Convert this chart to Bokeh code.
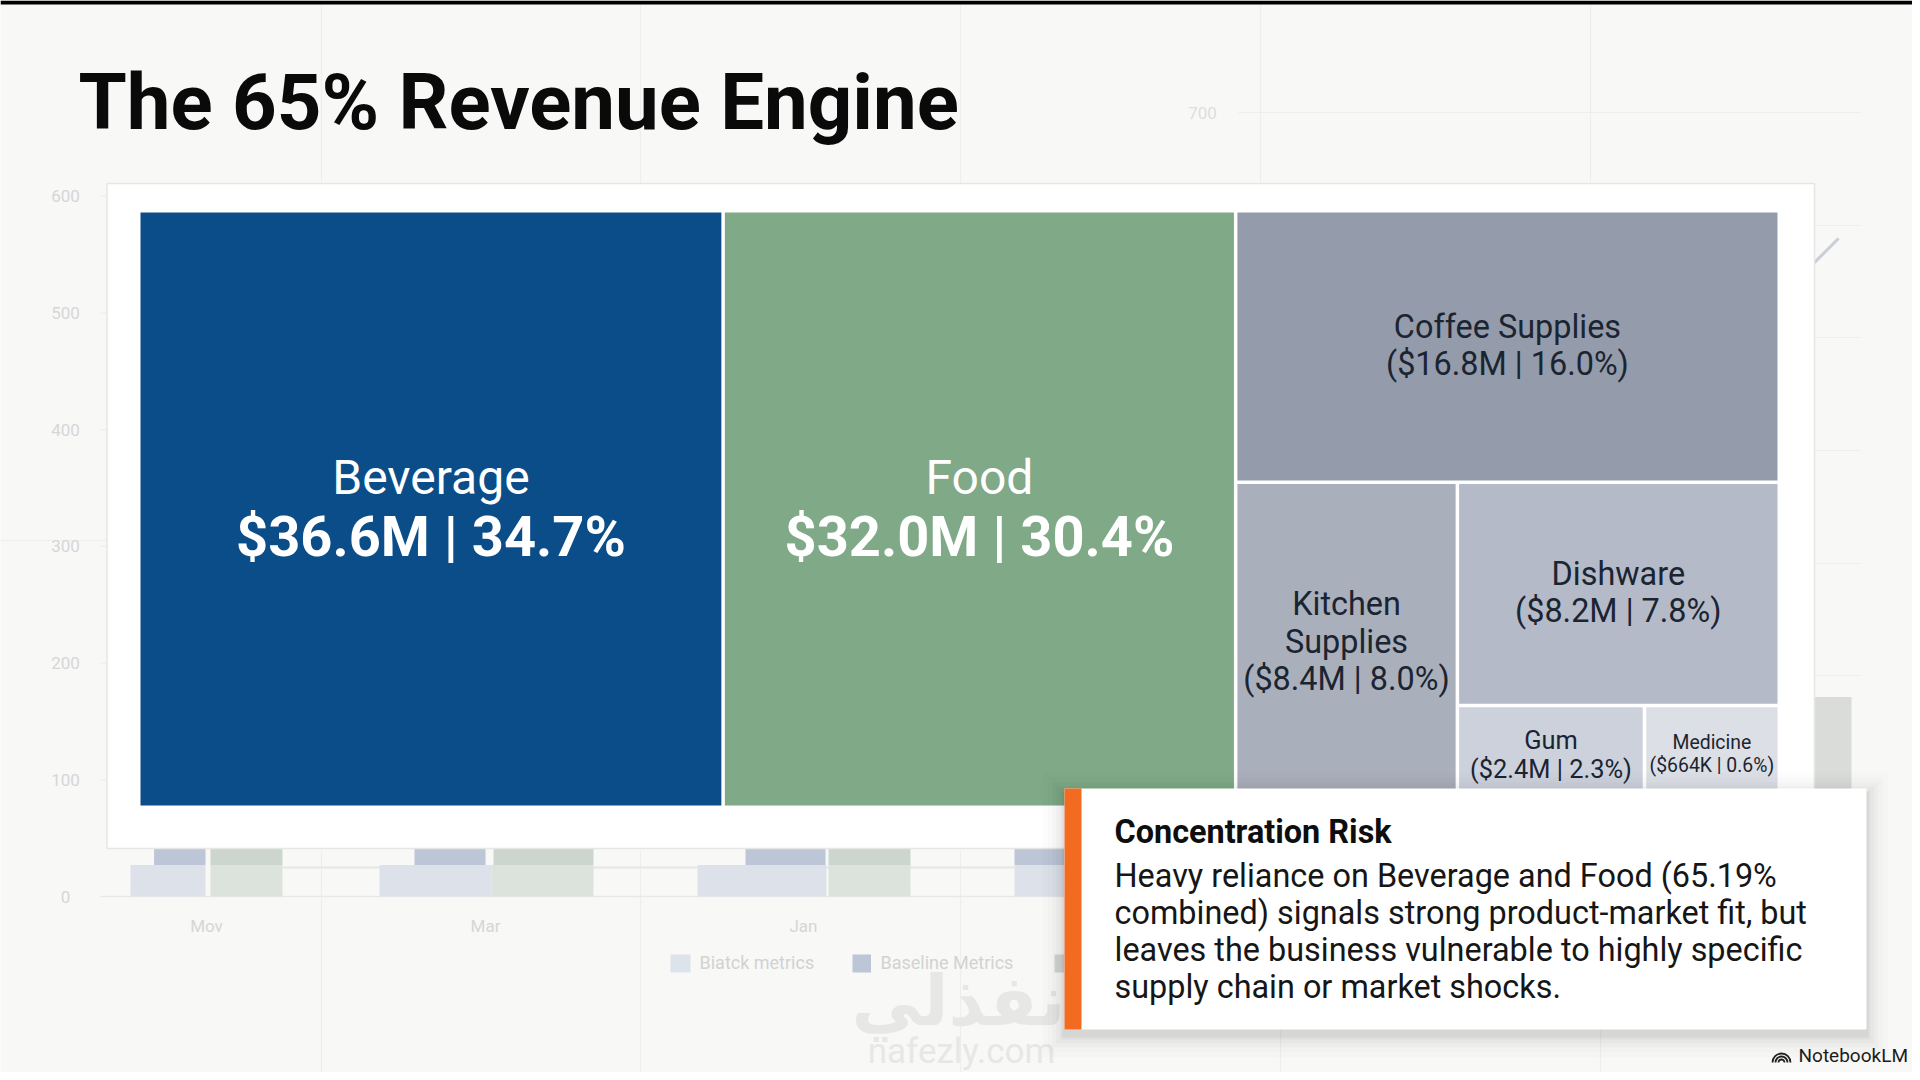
from bokeh.plotting import figure
from bokeh.models import Range1d
from bokeh.core.properties import value
from bokeh.embed import file_html
from bokeh.resources import INLINE

# ---------- data ----------
title = "The 65% Revenue Engine"
categories = ["Beverage", "Food", "Coffee Supplies", "Kitchen Supplies", "Dishware", "Gum", "Medicine"]
revenue_labels = ["$36.6M | 34.7%", "$32.0M | 30.4%", "($16.8M | 16.0%)", "($8.4M | 8.0%)",
                  "($8.2M | 7.8%)", "($2.4M | 2.3%)", "($664K | 0.6%)"]
tile_area = [35.6, 31.2, 15.05, 7.34, 7.40, 1.93, 1.38]   # area share of each tile as drawn
tile_color = ["#0a4d88", "#7fa987", "#949baa", "#a9afbb", "#b4bac7", "#ccd1dc", "#dcdfe5"]

ghost_ticks = [0, 100, 200, 300, 400, 500, 600]
ghost_months = ["Mov", "Mar", "Jan"]
ghost_lower_blue = [27, 27, 27, 27]
ghost_lower_green = [27, 27, 27]
ghost_upper = [160, 190, 230, 260]
ghost_right_bar = 171
legend_labels = ["Biatck metrics", "Baseline Metrics"]

risk_title = "Concentration Risk"
risk_lines = ["Heavy reliance on Beverage and Food (65.19%",
              "combined) signals strong product-market fit, but",
              "leaves the business vulnerable to highly specific",
              "supply chain or market shocks."]

# ---------- layout (screen-like data space, same as the picture's pixels) ----------
BG = "#f8f8f7"
W, H = 1912, 1072
ZERO = 896
p = figure(width=W, height=H, x_range=Range1d(0, W), y_range=Range1d(H, 0),
           output_backend="svg", toolbar_location=None, min_border=0, outline_line_color=None,
           background_fill_color=BG, border_fill_color=BG)
p.xaxis.visible = False
p.yaxis.visible = False
p.grid.visible = False
p.extra_y_ranges = {"ghost": Range1d(start=(ZERO - H) / 1.167, end=ZERO / 1.167)}

ROBOTO = value("Roboto")
GRID = "#eeeeec"
TICK = "#d6d6d6"


def put(x, base, text, size, color, align="left", bold=False, font=ROBOTO):
    """Place text by its baseline; the glyph uses a middle anchor at the cap-height centre."""
    p.text(x=x, y=[b - 0.36 * size for b in base], text=text, text_font=font,
           text_font_style="bold" if bold else "normal", text_font_size=f"{size}px",
           text_color=color, text_align=align, text_baseline="middle")


# background gridlines
p.segment(x0=[321, 640, 960, 1260, 1590], x1=[321, 640, 960, 1260, 1590],
          y0=[4] * 5, y1=[190] * 5, line_color=GRID, line_width=1.2)
p.segment(x0=[321, 640, 960, 1280, 1600], x1=[321, 640, 960, 1280, 1600],
          y0=[850] * 5, y1=[1076] * 5, line_color=GRID, line_width=1.2)
p.segment(x0=[1238, 1810, 1810, 1810, 1810, 1810], x1=[1860] * 6,
          y0=[112, 225, 337, 450, 563, 675], y1=[112, 225, 337, 450, 563, 675],
          line_color=GRID, line_width=1.2)
p.segment(x0=[0], x1=[110], y0=[540], y1=[540], line_color=GRID, line_width=1.2)
p.segment(x0=[100] * 7, x1=[108] * 7, y0=ghost_ticks, y1=ghost_ticks, y_range_name="ghost",
          line_color="#ececea", line_width=1)
p.segment(x0=[100], x1=[1064], y0=[0], y1=[0], y_range_name="ghost", line_color="#e9e9e7", line_width=1.5)
p.segment(x0=[282], x1=[1014], y0=[867], y1=[867], line_color="#e6e6e4", line_width=2)

# watermark, under the faded legend
put([958], [1026], ["نفذلي"], 70, "#e7e7e6", "center", bold=True, font=value("DejaVu Sans"))
put([961], [1064], ["nafezly.com"], 35, "#e7e7e6", "center")

# faded bars behind the panel
up_blue_l = [153.6, 414, 745, 1014]
up_blue_r = [205, 485, 825, 1064]
up_green_l = [210, 493, 828]
up_green_r = [282, 593, 910]
lo_blue_l = [130, 379, 697, 1014]
lo_blue_r = [205, 491, 826, 1064]
lo_green_l = [210, 491, 828]
lo_green_r = [282, 593, 910]
p.quad(left=lo_blue_l, right=lo_blue_r, bottom=[0] * 4, top=ghost_lower_blue, y_range_name="ghost",
       fill_color="#dde1ea", line_color=None)
p.quad(left=lo_green_l, right=lo_green_r, bottom=[0] * 3, top=ghost_lower_green, y_range_name="ghost",
       fill_color="#dbe3dc", line_color=None)
p.quad(left=up_blue_l, right=up_blue_r, bottom=ghost_lower_blue, top=ghost_upper, y_range_name="ghost",
       fill_color="#bcc6d6", line_color=None)
p.quad(left=up_green_l, right=up_green_r, bottom=ghost_lower_green, top=ghost_upper[:3], y_range_name="ghost",
       fill_color="#ccd6cf", line_color=None)
p.quad(left=[1780], right=[1851], bottom=[0], top=[ghost_right_bar], y_range_name="ghost",
       fill_color="#d9dcd9", line_color=None)
p.line(x=[1780, 1838], y=[296, 238], line_color="#c9ced6", line_width=3)

# faded tick labels, month labels, legend
p.text(x=[65] * 7, y=ghost_ticks, text=[str(t) for t in ghost_ticks], y_range_name="ghost",
       text_font=ROBOTO, text_font_size="17px", text_color=TICK, text_align="center", text_baseline="middle")
p.text(x=[1202], y=[112], text=["700"], text_font=ROBOTO, text_font_size="17px",
       text_color="#dedede", text_align="center", text_baseline="middle")
p.text(x=[206, 485, 803], y=[925] * 3, text=ghost_months, text_font=ROBOTO, text_font_size="17px",
       text_color=TICK, text_align="center", text_baseline="middle")
p.quad(left=[670, 852, 1054], right=[690, 870.5, 1064], top=[954] * 3, bottom=[972] * 3,
       fill_color=["#dde3ea", "#bcc6d6", "#d4d8d6"], line_color=None)
p.text(x=[699, 880], y=[962, 962], text=legend_labels, text_font=ROBOTO, text_font_size="18px",
       text_color="#d2d2d2", text_align="left", text_baseline="middle")

# white panel
p.quad(left=[106.5], right=[1814], top=[183], bottom=[848], fill_color="#ffffff",
       line_color="#e6e6e6", line_width=1.5)

# treemap: slice-and-dice from the tile areas
GAP = 3.5
tree = ("h", [0, 1, ("v", [2, ("h", [3, ("v", [4, ("h", [5, 6])])])])])


def weight(node):
    return tile_area[node] if isinstance(node, int) else sum(weight(n) for n in node[1])


rects = {}


def layout(node, l, r, t, b):
    if isinstance(node, int):
        rects[node] = (l, r, t, b)
        return
    kind, kids = node
    total = weight(node)
    span = (r - l if kind == "h" else b - t) - GAP * (len(kids) - 1)
    pos = l if kind == "h" else t
    for k in kids:
        size = span * weight(k) / total
        if kind == "h":
            layout(k, pos, pos + size, t, b)
        else:
            layout(k, l, r, pos, pos + size)
        pos += size + GAP


layout(tree, 140, 1777, 212, 805)
idx = range(len(categories))
p.quad(left=[rects[i][0] for i in idx], right=[rects[i][1] for i in idx],
       top=[rects[i][2] for i in idx], bottom=[rects[i][3] for i in idx],
       fill_color=tile_color, line_color=None)


def center(i):
    return (rects[i][0] + rects[i][1]) / 2


DARK = "#1b2431"
# big tiles
for i in (0, 1):
    put([center(i)], [494], [categories[i]], 48, "#ffffff", "center")
    put([center(i)], [557], [revenue_labels[i]], 56, "#ffffff", "center", bold=True)
# small tiles: (tile, lines, baselines, font size)
small = [
    (2, [categories[2], revenue_labels[2]], [338, 375], 32.4),
    (3, categories[3].split(" ") + [revenue_labels[3]], [615, 653, 690], 32.4),
    (4, [categories[4], revenue_labels[4]], [585, 622], 32.4),
    (5, [categories[5], revenue_labels[5]], [749, 778], 25.4),
    (6, [categories[6], revenue_labels[6]], [749, 772], 19.4),
]
for i, lines, ys, size in small:
    put([center(i)] * len(lines), ys, lines, size, DARK, "center")

# title
put([78], [130], [title], 78, "#0a0a0a", bold=True)

# card with soft shadow
for grow, alpha in [(22, 0.010), (17, 0.013), (12, 0.018), (8, 0.024), (4, 0.03), (2, 0.04)]:
    p.quad(left=[1064 - grow], right=[1866 + grow], top=[788 - grow + 6], bottom=[1029 + grow + 6],
           fill_color="#000000", fill_alpha=alpha, line_color=None)
p.quad(left=[1064], right=[1866], top=[788], bottom=[1029], fill_color="#ffffff", line_color=None)
p.quad(left=[1064], right=[1081], top=[788], bottom=[1029], fill_color="#f26b21", line_color=None)
put([1114], [843], [risk_title], 32.4, "#0e0e0e", bold=True)
put([1114] * 4, [887, 924, 961, 998], risk_lines, 32.4, "#161616")

# NotebookLM mark
p.arc(x=[1781] * 3, y=[1062] * 3, radius=[9, 6, 3], start_angle=0, end_angle=3.1416,
      line_color="#222222", line_width=1.8)
put([1798], [1062], ["NotebookLM"], 19, "#1c1c1c")

# letterbox strip at the top of the frame
p.quad(left=[0], right=[W], top=[0], bottom=[4], fill_color="#000000", line_color=None)

open("out.html", "w").write(file_html(p, INLINE))
